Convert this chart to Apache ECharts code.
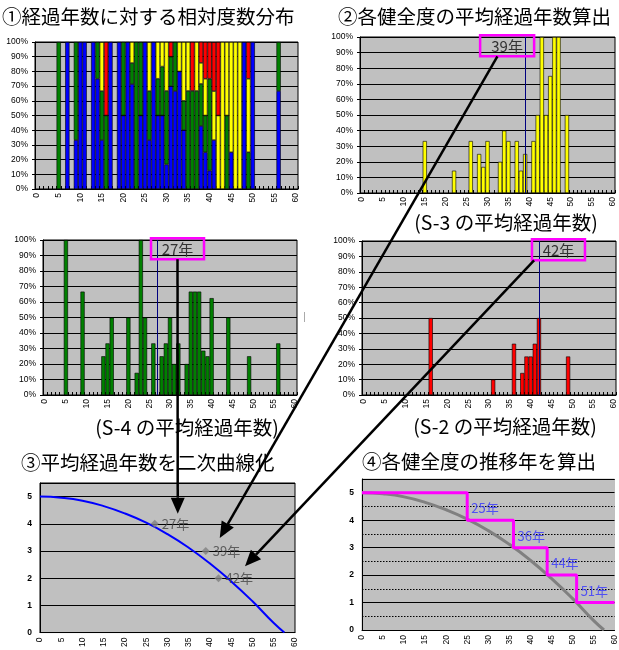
<!DOCTYPE html>
<html><head><meta charset="utf-8">
<script src="https://cdn.jsdelivr.net/npm/echarts@6/dist/echarts.min.js"></script>
<style>html,body{margin:0;padding:0;background:#fff;}#c{width:619px;height:650px;}</style>
</head><body><div id="c"></div>
<script>
// ---------- DATA ----------
const xCats = Array.from({length: 61}, (_, i) => String(i)); // elapsed years 0..60
const years = [5,7,9,10,11,13,14,15,16,17,19,20,21,22,23,24,25,26,27,28,29,30,31,32,33,34,35,36,37,38,39,40,41,42,43,44,45,46,47,48,49,50,52,53,56];
// relative frequency (%) per elapsed year
const s5Blue   = [0,100,33.3,100,100,100,75,33.3,0,100,100,50,100,71.4,0,50,100,33.3,100,50,50,16.7,70,66.7,80,40,0,0,0,42.9,25,12.5,33.3,0,0,0,25,0,0,100,0,100,0,0,66.7];
const s4Green  = [100,0,66.7,0,0,0,25,33.3,50,0,0,50,0,14.3,100,50,0,33.3,0,25,33.3,50,20,33.3,0,20,66.7,66.7,66.7,28.6,25,62.5,0,0,0,50,0,0,0,0,25,0,0,0,33.3];
const s3Yellow = [0,0,0,0,0,0,0,33.3,0,0,0,0,0,14.3,0,0,0,33.3,0,25,16.7,33.3,0,0,20,40,33.3,0,33.3,14.3,25,0,33.3,50,100,50,75,100,100,0,50,0,0,0,0];
const s2Red    = [0,0,0,0,0,0,0,0,50,0,0,0,0,0,0,0,0,0,0,0,0,0,10,0,0,0,0,33.3,0,14.3,25,25,33.3,50,0,0,0,0,0,0,25,0,0,0,0];
// average elapsed years per soundness grade
const meanGrades = ['S-4', 'S-3', 'S-2'];
const meanYears  = [27, 39, 42];
const meanLevels = [4, 3, 2];
// quadratic deterioration curve
const curveX = [0, 5, 10, 15, 20, 25, 30, 35, 40, 45, 50, 55, 57.5];
const curveY = [5, 4.96, 4.85, 4.65, 4.38, 4.04, 3.62, 3.12, 2.54, 1.88, 1.15, 0.35, 0];
// transition years
const transYears  = [25, 36, 44, 51];
const transLevels = [4, 3, 2, 1];
const yTicks = [0, 1, 2, 3, 4, 5];

// ---------- BUILD ----------
function spread(arr) {
  const out = xCats.map(() => null);
  years.forEach((y, i) => { if (arr[i] > 0) out[y] = arr[i]; });
  return out;
}
const LF = 'Liberation Sans, Arial, sans-serif';
const JF = '"Noto Sans CJK JP", sans-serif';
const grids = [
  {left: 35, top: 42, width: 263, height: 147},
  {left: 360, top: 37, width: 255, height: 156},
  {left: 43, top: 240, width: 254, height: 155},
  {left: 362, top: 241, width: 254, height: 154},
  {left: 40, top: 483, width: 255, height: 152},
  {left: 362, top: 479, width: 256, height: 151}
].map(g => Object.assign(g, {show: true, backgroundColor: '#C0C0C0', borderColor: '#000', borderWidth: 1, containLabel: false}));
grids[5].borderColor = '#C0C0C0';

function catX(gi) {
  return {type: 'category', gridIndex: gi, data: xCats, boundaryGap: true,
    axisLine: {lineStyle: {color: '#000', width: 1}},
    axisTick: {show: true, interval: 0, inside: true, length: 3, lineStyle: {color: '#000'}},
    axisLabel: {interval: 4, rotate: 90, fontSize: 8.5, color: '#000', margin: 4, fontFamily: LF},
    splitLine: {show: false}};
}
function pctY(gi) {
  return {type: 'value', gridIndex: gi, min: 0, max: 100, interval: 10,
    axisLine: {show: true, lineStyle: {color: '#000'}},
    axisTick: {show: true, length: 3, lineStyle: {color: '#000'}},
    axisLabel: {formatter: '{value}%', fontSize: 8.5, color: '#000', margin: 7, fontFamily: LF},
    splitLine: {show: true, lineStyle: {color: '#000', width: 1}}};
}
function valX(gi) {
  return {type: 'value', gridIndex: gi, min: 0, max: 60, interval: 5,
    axisLine: {lineStyle: {color: '#000'}}, axisTick: {show: false},
    axisLabel: {rotate: 90, fontSize: 8.5, color: '#000', margin: 5, fontFamily: LF},
    splitLine: {show: false}};
}
function levY(gi) {
  return {type: 'value', gridIndex: gi, min: 0, max: 5.5, interval: 1,
    axisLine: {show: true, lineStyle: {color: '#000'}},
    axisTick: {show: false},
    axisLabel: {fontSize: 8.5, fontWeight: 'bold', color: '#000', margin: 8, fontFamily: LF,
      formatter: v => (yTicks.indexOf(v) >= 0 ? String(v) : '')},
    splitLine: {show: true, lineStyle: {color: '#000', width: 1}}};
}
const barBase = {type: 'bar', barCategoryGap: '0%', barGap: '0%'};
const bStyle = (c) => ({color: c, borderColor: '#000', borderWidth: 0.6});
const meanLine = (yr) => ({symbol: 'none', silent: true, label: {show: false},
  lineStyle: {color: '#000080', width: 1, type: 'solid'}, data: [{xAxis: String(yr)}]});

const curvePts = curveX.map((x, i) => [x, curveY[i]]);
const stepPts = [[0, 5]].concat(transYears.map((t, i) => [t, transLevels[i]]), [[60, transLevels[transLevels.length - 1]]]);
const meanPts = meanYears.map((y, i) => [y, meanLevels[i]]);
const transLabelPts = transYears.map((t, i) => [t, transLevels[i] + 0.5]);

const series = [
  Object.assign({}, barBase, {name: 'S-5', stack: 'a', xAxisIndex: 0, yAxisIndex: 0, data: spread(s5Blue), itemStyle: bStyle('#0000FF')}),
  Object.assign({}, barBase, {name: 'S-4', stack: 'a', xAxisIndex: 0, yAxisIndex: 0, data: spread(s4Green), itemStyle: bStyle('#008000')}),
  Object.assign({}, barBase, {name: 'S-3', stack: 'a', xAxisIndex: 0, yAxisIndex: 0, data: spread(s3Yellow), itemStyle: bStyle('#FFFF00')}),
  Object.assign({}, barBase, {name: 'S-2', stack: 'a', xAxisIndex: 0, yAxisIndex: 0, data: spread(s2Red), itemStyle: bStyle('#FF0000')}),
  Object.assign({}, barBase, {name: 'S-3b', xAxisIndex: 1, yAxisIndex: 1, data: spread(s3Yellow), itemStyle: bStyle('#FFFF00'), markLine: meanLine(meanYears[1])}),
  Object.assign({}, barBase, {name: 'S-4b', xAxisIndex: 2, yAxisIndex: 2, data: spread(s4Green), itemStyle: bStyle('#008000'), markLine: meanLine(meanYears[0])}),
  Object.assign({}, barBase, {name: 'S-2b', xAxisIndex: 3, yAxisIndex: 3, data: spread(s2Red), itemStyle: bStyle('#FF0000'), markLine: meanLine(meanYears[2])}),
  {type: 'line', xAxisIndex: 4, yAxisIndex: 4, data: curvePts, smooth: true, showSymbol: false,
    lineStyle: {color: '#0000FF', width: 2}, z: 3},
  {type: 'scatter', xAxisIndex: 4, yAxisIndex: 4, data: meanPts, symbol: 'diamond', symbolSize: 8,
    itemStyle: {color: '#808080'}, z: 4,
    label: {show: true, position: 'right', distance: 3, color: '#444', fontSize: 13, fontFamily: JF,
      formatter: p => p.value[0] + '年'}},
  {type: 'line', xAxisIndex: 5, yAxisIndex: 5, data: curvePts, smooth: true, showSymbol: false,
    lineStyle: {color: '#808080', width: 3}, z: 3},
  {type: 'line', xAxisIndex: 5, yAxisIndex: 5, data: stepPts, step: 'end', showSymbol: false,
    lineStyle: {color: '#FF00FF', width: 3}, z: 4,
    markLine: {symbol: 'none', silent: true, label: {show: false}, z: 1,
      lineStyle: {color: '#000', width: 1, type: [1.5, 1.5]},
      data: [0.5, 1.5, 2.5, 3.5, 4.5, 5.5].map(v => ({yAxis: v}))}},
  {type: 'scatter', xAxisIndex: 5, yAxisIndex: 5, data: transLabelPts, symbolSize: 0, z: 5,
    label: {show: true, position: 'right', distance: 4, offset: [0, 2], color: '#3333FF', fontSize: 13, fontFamily: JF,
      formatter: p => p.value[0] + '年'}}
];

const option = {
  backgroundColor: '#fff',
  animation: false,
  grid: grids,
  xAxis: [catX(0), catX(1), catX(2), catX(3), valX(4), valX(5)],
  yAxis: [pctY(0), pctY(1), pctY(2), pctY(3), levY(4), levY(5)],
  series: series
};

const chart = echarts.init(document.getElementById('c'), null, {renderer: 'canvas'});
chart.setOption(option);

// ---------- ANNOTATIONS ----------
function txt(s, x, y, align, size, color) {
  return {type: 'text', x: x, y: y, z: 50,
    style: {text: s, fontSize: size || 19.5, fontFamily: JF, fill: color || '#000', align: align || 'left', verticalAlign: 'middle'}};
}
function arrow(x1, y1, x2, y2) {
  const a = Math.atan2(y2 - y1, x2 - x1), L = 16, W = 7;
  const bx = x2 - L * Math.cos(a), by = y2 - L * Math.sin(a);
  const px = -Math.sin(a), py = Math.cos(a);
  return [
    {type: 'line', z: 100, shape: {x1: x1, y1: y1, x2: bx, y2: by}, style: {stroke: '#000', lineWidth: 2.5}},
    {type: 'polygon', z: 100, shape: {points: [[x2, y2], [bx + px * W, by + py * W], [bx - px * W, by - py * W]]}, style: {fill: '#000'}}
  ];
}
const g = [];
g.push(txt('①経過年数に対する相対度数分布', 2, 17));
g.push(txt('②各健全度の平均経過年数算出', 338, 17));
g.push(txt('(S-3 の平均経過年数)', 506, 223, 'center'));
g.push(txt('(S-4 の平均経過年数)', 187, 428, 'center'));
g.push(txt('(S-2 の平均経過年数)', 505, 427, 'center'));
g.push(txt('③平均経過年数を二次曲線化', 21, 463));
g.push(txt('④各健全度の推移年を算出', 362, 462));
g.push({type: 'line', z: 50, shape: {x1: 304.5, y1: 312, x2: 304.5, y2: 322}, style: {stroke: '#aaa', lineWidth: 1}});

// mean boxes: grid index for each grade, box offsets from mean line
const boxGrid = {'S-4': 2, 'S-3': 1, 'S-2': 3};
const boxOff = {'S-4': [-6.5, 46.5], 'S-3': [-45, 9], 'S-2': [-7, 46]};
const boxStart = {'S-4': 0.5, 'S-3': 0.32, 'S-2': 0.04};
const tipOff = {'S-4': [23, -10], 'S-3': [14, -13], 'S-2': [26.5, -12]};
meanGrades.forEach((gr, i) => {
  const gi = boxGrid[gr];
  const p = chart.convertToPixel({gridIndex: gi}, [meanYears[i], 100]);
  const mx = p[0], top = p[1] - 1.7;
  const x0 = mx + boxOff[gr][0], x1 = mx + boxOff[gr][1];
  g.push({type: 'rect', z: 60, shape: {x: x0, y: top, width: x1 - x0, height: 21},
    style: {fill: 'none', stroke: '#FF00FF', lineWidth: 2.5}});
  g.push(txt(meanYears[i] + '年', (x0 + x1) / 2, top + 10.5, 'center', 15, '#333'));
  const sx = x0 + (x1 - x0) * boxStart[gr], sy = top + 21;
  const tp = chart.convertToPixel({gridIndex: 4}, [meanYears[i], meanLevels[i]]);
  const ex = tp[0] + tipOff[gr][0], ey = tp[1] + tipOff[gr][1];
  arrow(sx, sy, ex, ey).forEach(e => g.push(e));
});
chart.setOption({graphic: {elements: g}});
</script></body></html>
